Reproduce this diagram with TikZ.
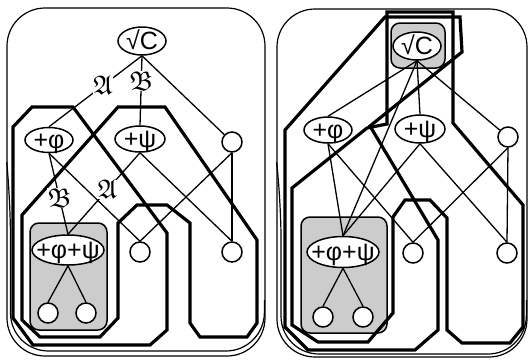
\documentclass[tikz,border=0pt]{standalone}
\usepackage{fontspec}
\setmainfont{Liberation Sans}
\usepackage{amssymb}
\usetikzlibrary{shapes.geometric}
\pgfdeclarelayer{bg}
\pgfsetlayers{bg,main}
\newcommand{\ntx}[1]{\makebox[0pt][c]{\raisebox{-8.5pt}[0pt][0pt]{#1}}}
\begin{document}
\begin{tikzpicture}[x=1pt,y=-1pt,
  thinl/.style={line width=1.3pt},
  region/.style={line width=3.2pt, line join=miter},
  ell/.style={ellipse, draw, line width=1.5pt, inner sep=0pt, fill=white, font=\fontsize{25}{25}\selectfont},
  leaf/.style={circle, draw, line width=1.5pt, minimum size=20pt, inner sep=0pt, fill=white},
  lab/.style={fill=white, inner sep=0.5pt, font=\fontsize{27}{27}\selectfont},
  greybox/.style={fill=black!20, draw, line width=1.5pt, rounded corners=9pt},
  frame/.style={line width=1.2pt, rounded corners=38pt}]
\useasboundingbox (0,0) rectangle (531,360);
% ---- left panel nodes
\node[ell, minimum width=48pt, minimum height=28pt] (C1) at (142,41) {\ntx{√C}};
\node[ell, minimum width=48pt, minimum height=25pt] (F1) at (49,140) {\ntx{+φ}};
\node[ell, minimum width=50pt, minimum height=26pt] (S1) at (140,139) {\ntx{+ψ}};
\node[leaf] (R1t) at (232,142) {};
\node[ell, minimum width=72pt, minimum height=30pt] (FS1) at (68,250) {\ntx{+φ+ψ}};
\node[leaf] (B1a) at (48,313) {};
\node[leaf] (B1b) at (86,313) {};
\node[leaf] (M1) at (140,252) {};
\node[leaf] (R1b) at (232,252) {};
% ---- right panel nodes
\node[ell, minimum width=48pt, minimum height=28pt] (C2) at (417,46) {\ntx{√C}};
\node[ell, minimum width=48pt, minimum height=26pt] (F2) at (328,130) {\ntx{+φ}};
\node[ell, minimum width=50pt, minimum height=28pt] (S2) at (420,129) {\ntx{+ψ}};
\node[leaf] (R2t) at (508,137) {};
\node[ell, minimum width=72pt, minimum height=31pt] (FS2) at (343,252) {\ntx{+φ+ψ}};
\node[leaf] (B2a) at (323,317) {};
\node[leaf] (B2b) at (363,317) {};
\node[leaf] (M2) at (413,253) {};
\node[leaf] (R2b) at (507,253) {};
\begin{pgfonlayer}{bg}
% frames, with the doubled lower stroke of the reference
\draw[frame] (7,8) rectangle (265,356);
\draw[frame] (7.5,170) -- (10.5,200) -- (10.5,351) -- (264,351) -- (264.5,300);
\draw[frame] (277,9) rectangle (527,357);
\draw[frame] (277.5,170) -- (281,200) -- (281,354) -- (526,354) -- (526.5,300);
% grey boxes
\draw[greybox] (30,223) rectangle (107,330);
\draw[greybox] (301,217) rectangle (387,333);
\draw[greybox] (391,23) rectangle (445,68);
% regions left
\draw[region] (13,127) -- (32,107) -- (73,107) -- (167,233) -- (167,330) -- (150,345) -- (33,345) -- (13,318) -- cycle;
\draw[region] (22,215) -- (118,107) -- (165,107) -- (257,240) -- (257,323) -- (247,337) -- (200,337) -- (190,323) -- (190,223) -- (167,205) -- (137,205) -- (118,223) -- (118,318) -- (100,337) -- (40,337) -- (22,320) -- cycle;
% regions right
\draw[region] (285,130) -- (385,17) -- (460,17) -- (462,52) -- (370,126) -- (438,240) -- (438,330) -- (415,350) -- (308,350) -- (285,327) -- cycle;
\draw[region] (292,188) -- (367,128) -- (387,124) -- (387,12) -- (453,12) -- (453,123) -- (523,205) -- (523,327) -- (510,343) -- (462,343) -- (447,330) -- (447,218) -- (430,200) -- (405,200) -- (393,217) -- (393,313) -- (368,342) -- (318,342) -- (292,325) -- cycle;
% edges left
\draw[thinl] (C1.south) -- node[lab, pos=0.42]{$\mathfrak{A}$} (F1.north);
\draw[thinl] (C1.south) -- node[lab, pos=0.36]{$\mathfrak{B}$} (S1.north);
\draw[thinl] (C1.south) -- (R1t);
\draw[thinl] (F1.south) -- node[lab, pos=0.55]{$\mathfrak{B}$} (FS1.north);
\draw[thinl] (S1.south) -- node[lab, pos=0.45]{$\mathfrak{A}$} (FS1.north);
\draw[thinl] (F1.south) -- (M1.north);
\draw[thinl] (S1.south) -- (R1b.north);
\draw[thinl] (R1t.south) -- (M1.north);
\draw[thinl] (R1t.south) -- (R1b.north);
\draw[thinl] (FS1.south) -- (B1a.north);
\draw[thinl] (FS1.south) -- (B1b.north);
% edges right
\draw[thinl] (C2.south) -- (F2.north);
\draw[thinl] (C2.south) -- (S2.north);
\draw[thinl] (C2.south) -- (R2t);
\draw[thinl] (C2.south) -- (FS2.north);
\draw[thinl] (F2.south) -- (FS2.north);
\draw[thinl] (S2.south) -- (FS2.north);
\draw[thinl] (F2.south) -- (M2.north);
\draw[thinl] (S2.south) -- (R2b.north);
\draw[thinl] (R2t.south) -- (M2.north);
\draw[thinl] (R2t.south) -- (R2b.north);
\draw[thinl] (FS2.south) -- (B2a.north);
\draw[thinl] (FS2.south) -- (B2b.north);
\end{pgfonlayer}
\end{tikzpicture}
\end{document}
